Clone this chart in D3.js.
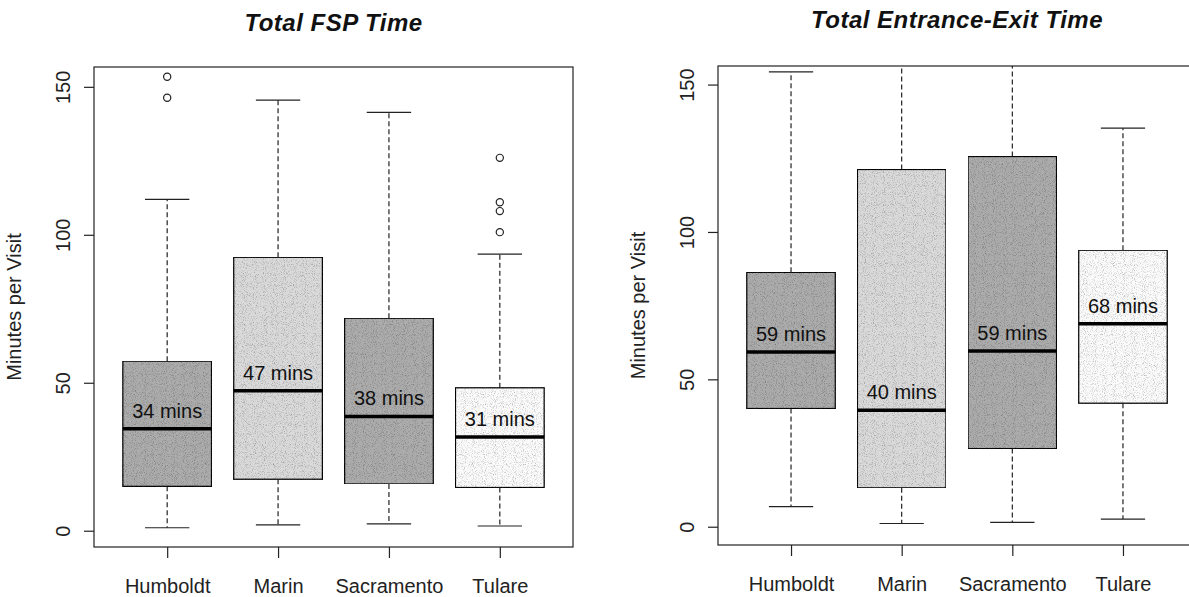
<!DOCTYPE html>
<meta charset="utf-8">
<style>
  body { margin: 0; background: #fff; }
  svg { display: block; font-family: "Liberation Sans", Arial, sans-serif; }
  .frame { fill: none; stroke: #222; stroke-width: 1.2; }
  .title { font-size: 24px; font-weight: 700; font-style: italic; letter-spacing: 0.5px; fill: #111; }
  .ylab { font-size: 20px; fill: #222; }
  .axis text { font-size: 20px; fill: #222; }
  .axis line { stroke: #222; stroke-width: 1.2; }
  .whisker { stroke: #222; stroke-width: 1.2; stroke-dasharray: 5,3; }
  .cap { stroke: #222; stroke-width: 1.2; }
  .box { stroke: #111; stroke-width: 1.3; }
  .median { stroke: #000; stroke-width: 3.5; }
  .mlabel { font-size: 20px; fill: #111; text-anchor: middle; }
  .outlier { fill: none; stroke: #222; stroke-width: 1.2; }
</style>
<body>
<script src="https://cdnjs.cloudflare.com/ajax/libs/d3/7.8.5/d3.min.js"></script>
<script>
// categories shared by both panels
var categories = ["Humboldt", "Marin", "Sacramento", "Tulare"];
var boxColors = ["#acacac", "#dadada", "#acacac", "#fbfbfb"];
var yTicks = [0, 50, 100, 150];

// Total FSP Time (minutes per visit)
var fspMin = [1, 2, 2.3, 1.6];
var fspQ1 = [15, 17.4, 15.8, 14.6];
var fspMedian = [34.5, 47.3, 38.6, 31.7];
var fspQ3 = [57.3, 92.4, 71.8, 48.3];
var fspMax = [112, 145.5, 141.4, 93.5];
var fspOutliers = [[146.3, 153.4], [], [], [100.9, 108, 111, 126]];
var fspLabels = ["34 mins", "47 mins", "38 mins", "31 mins"];

// Total Entrance-Exit Time (minutes per visit); Marin/Sacramento whiskers run off the top
var eeMin = [6.8, 1.1, 1.5, 2.6];
var eeQ1 = [40.1, 13.2, 26.5, 41.9];
var eeMedian = [59.3, 39.5, 59.6, 68.9];
var eeQ3 = [86.3, 121.2, 125.6, 93.8];
var eeMax = [154.3, 162, 162, 135.2];
var eeOutliers = [[], [], [], []];
var eeLabels = ["59 mins", "40 mins", "59 mins", "68 mins"];

var width = 1189, height = 597;

var svg = d3.select("body").append("svg")
    .attr("width", width)
    .attr("height", height);

svg.append("rect").attr("width", width).attr("height", height).attr("fill", "#fff");

// speckle texture, the boxes in the scan are stippled
var filt = svg.append("defs").append("filter").attr("id", "grain")
    .attr("x", 0).attr("y", 0).attr("width", "100%").attr("height", "100%");
filt.append("feTurbulence").attr("type", "fractalNoise").attr("baseFrequency", 1.1)
    .attr("numOctaves", 1).attr("seed", 4).attr("result", "noise");
filt.append("feColorMatrix").attr("in", "noise").attr("type", "matrix")
    .attr("values", "0 0 0 0 0  0 0 0 0 0  0 0 0 0 0  1.6 0 0 0 -0.78").attr("result", "dots");
filt.append("feComposite").attr("in", "dots").attr("in2", "SourceGraphic")
    .attr("operator", "in").attr("result", "clipped");
var merge = filt.append("feMerge");
merge.append("feMergeNode").attr("in", "SourceGraphic");
merge.append("feMergeNode").attr("in", "clipped");

function drawPanel(opt) {
  var x = d3.scaleLinear().domain([0.34, 4.66]).range([opt.left, opt.right]);
  var y = d3.scaleLinear().domain(opt.ydomain).range([opt.bottom, opt.top]);
  var boxW = (x(2) - x(1)) * 0.8;
  var g = svg.append("g");

  g.append("text")
    .attr("class", "title")
    .attr("x", (opt.left + opt.right) / 2)
    .attr("y", opt.titleY)
    .attr("text-anchor", "middle")
    .text(opt.title);

  // clip to plot region like R does
  var clipId = "clip-" + opt.id;
  g.append("clipPath").attr("id", clipId)
    .append("rect")
    .attr("x", opt.left).attr("y", opt.top)
    .attr("width", opt.right - opt.left).attr("height", opt.bottom - opt.top);

  var plot = g.append("g").attr("clip-path", "url(#" + clipId + ")");

  var idx = d3.range(categories.length);
  var items = plot.selectAll(".item").data(idx).enter().append("g").attr("class", "item");

  // whiskers (dashed) and staples
  items.append("line").attr("class", "whisker")
    .attr("x1", i => x(i + 1)).attr("x2", i => x(i + 1))
    .attr("y1", i => y(opt.q3[i])).attr("y2", i => y(opt.max[i]));
  items.append("line").attr("class", "whisker")
    .attr("x1", i => x(i + 1)).attr("x2", i => x(i + 1))
    .attr("y1", i => y(opt.q1[i])).attr("y2", i => y(opt.min[i]));
  items.append("line").attr("class", "cap")
    .attr("x1", i => x(i + 1) - boxW / 4).attr("x2", i => x(i + 1) + boxW / 4)
    .attr("y1", i => y(opt.max[i])).attr("y2", i => y(opt.max[i]));
  items.append("line").attr("class", "cap")
    .attr("x1", i => x(i + 1) - boxW / 4).attr("x2", i => x(i + 1) + boxW / 4)
    .attr("y1", i => y(opt.min[i])).attr("y2", i => y(opt.min[i]));

  items.append("rect").attr("class", "box")
    .attr("x", i => x(i + 1) - boxW / 2)
    .attr("width", boxW)
    .attr("y", i => y(opt.q3[i]))
    .attr("height", i => y(opt.q1[i]) - y(opt.q3[i]))
    .attr("fill", i => boxColors[i])
    .attr("filter", "url(#grain)");

  items.append("line").attr("class", "median")
    .attr("x1", i => x(i + 1) - boxW / 2).attr("x2", i => x(i + 1) + boxW / 2)
    .attr("y1", i => y(opt.median[i])).attr("y2", i => y(opt.median[i]));

  items.append("text").attr("class", "mlabel")
    .attr("x", i => x(i + 1))
    .attr("y", i => y(opt.median[i]) - 11)
    .text(i => opt.labels[i]);

  items.selectAll(".outlier")
    .data(i => opt.outliers[i].map(v => ({i: i, v: v})))
    .enter().append("circle").attr("class", "outlier")
    .attr("cx", d => x(d.i + 1))
    .attr("cy", d => y(d.v))
    .attr("r", 3.6);

  g.append("rect").attr("class", "frame")
    .attr("x", opt.left).attr("y", opt.top)
    .attr("width", opt.right - opt.left).attr("height", opt.bottom - opt.top);

  // y axis with rotated labels
  var yAxis = g.append("g").attr("class", "axis")
    .attr("transform", "translate(" + opt.left + ",0)")
    .call(d3.axisLeft(y).tickValues(yTicks).tickSize(10).tickSizeOuter(0));
  yAxis.select(".domain").remove();
  yAxis.selectAll("text")
    .attr("x", 0).attr("dy", null)
    .attr("text-anchor", "middle")
    .attr("transform", "translate(-24,0) rotate(-90)");

  // x axis
  var xAxis = g.append("g").attr("class", "axis")
    .attr("transform", "translate(0," + opt.bottom + ")")
    .call(d3.axisBottom(x).tickValues([1, 2, 3, 4]).tickFormat(d => categories[d - 1]).tickSize(11).tickSizeOuter(0));
  xAxis.select(".domain").remove();
  xAxis.selectAll("text").attr("y", 46).attr("dy", null);

  g.append("text")
    .attr("class", "ylab")
    .attr("text-anchor", "middle")
    .attr("transform", "translate(" + (opt.left - 73) + "," + ((opt.top + opt.bottom) / 2) + ") rotate(-90)")
    .text("Minutes per Visit");
}

drawPanel({
  id: "fsp", title: "Total FSP Time", titleY: 31,
  left: 94, right: 573, top: 67, bottom: 547, ydomain: [-5.5, 156.7],
  min: fspMin, q1: fspQ1, median: fspMedian, q3: fspQ3, max: fspMax,
  outliers: fspOutliers, labels: fspLabels
});

drawPanel({
  id: "ee", title: "Total Entrance-Exit Time", titleY: 28,
  left: 718, right: 1196, top: 66, bottom: 545, ydomain: [-6.2, 156.3],
  min: eeMin, q1: eeQ1, median: eeMedian, q3: eeQ3, max: eeMax,
  outliers: eeOutliers, labels: eeLabels
});
</script>
</body>
